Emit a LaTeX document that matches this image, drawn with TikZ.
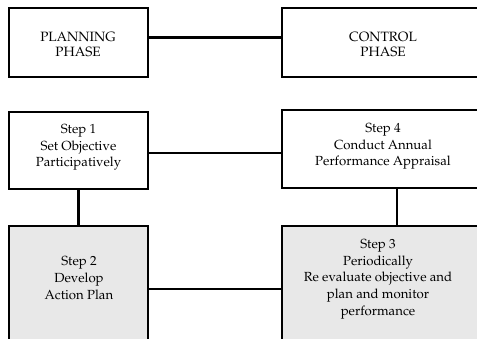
\documentclass[tikz,border=0pt]{standalone}
\usepackage[T1]{fontenc}
\usepackage{mathpazo}
\definecolor{stepfill}{RGB}{232,232,232}
\begin{document}
\begin{tikzpicture}[x=1pt,y=-1pt,
  box/.style={draw=black,line width=2.3pt,inner sep=0pt},
  shaded/.style={box,fill=stepfill},
  link/.style={draw=black,line width=2.3pt},
  label/.style={align=center,inner sep=0pt,font=\fontsize{13.2}{16.7}\selectfont},
  phaselabel/.style={label,font=\fontsize{13.5}{15}\selectfont}]
\useasboundingbox (0,0) rectangle (477,339);
\begin{scope}
\clip (0,0) rectangle (477,339);
% phase boxes
\node[box,minimum width=139pt,minimum height=69pt] (plan) at (78.5,42.5) {};
\node[box,minimum width=230pt,minimum height=69pt] (ctrl) at (397,42.5) {};
% step boxes
\node[box,minimum width=139pt,minimum height=77pt] (s1) at (78.5,150.5) {};
\node[box,minimum width=230pt,minimum height=78pt] (s4) at (397,149) {};
\node[shaded,minimum width=139pt,minimum height=140pt] (s2) at (78.5,296) {};
\node[shaded,minimum width=230pt,minimum height=140pt] (s3) at (397,296) {};
% connectors
\draw[link] ([yshift=5pt]plan.east) -- ([yshift=5pt]ctrl.west);
\draw[link] (s1.east |- 0,153) -- (s4.west |- 0,153);
\draw[link] (s1.south) -- (s2.north);
\draw[link] (s4.south) -- (s3.north);
\draw[link] (s2.east |- 0,289) -- (s3.west |- 0,289);
\end{scope}
% texts
\node[phaselabel] (tplan) at (78,44) {PLANNING\\PHASE};
\node[phaselabel] (tctrl) at (383,44) {CONTROL\\PHASE};
\node[label] (t1) at (78.5,147.5) {Step 1\\Set Objective\\Participatively};
\node[label] (t4) at (383,146.5) {Step 4\\Conduct Annual\\Performance Appraisal};
\node[label] (t2) at (79,278) {Step 2\\Develop\\Action Plan};
\node[label] (t3) at (378,279) {Step 3\\Periodically\\Re evaluate objective and\\plan and monitor\\performance};
\end{tikzpicture}
\end{document}
